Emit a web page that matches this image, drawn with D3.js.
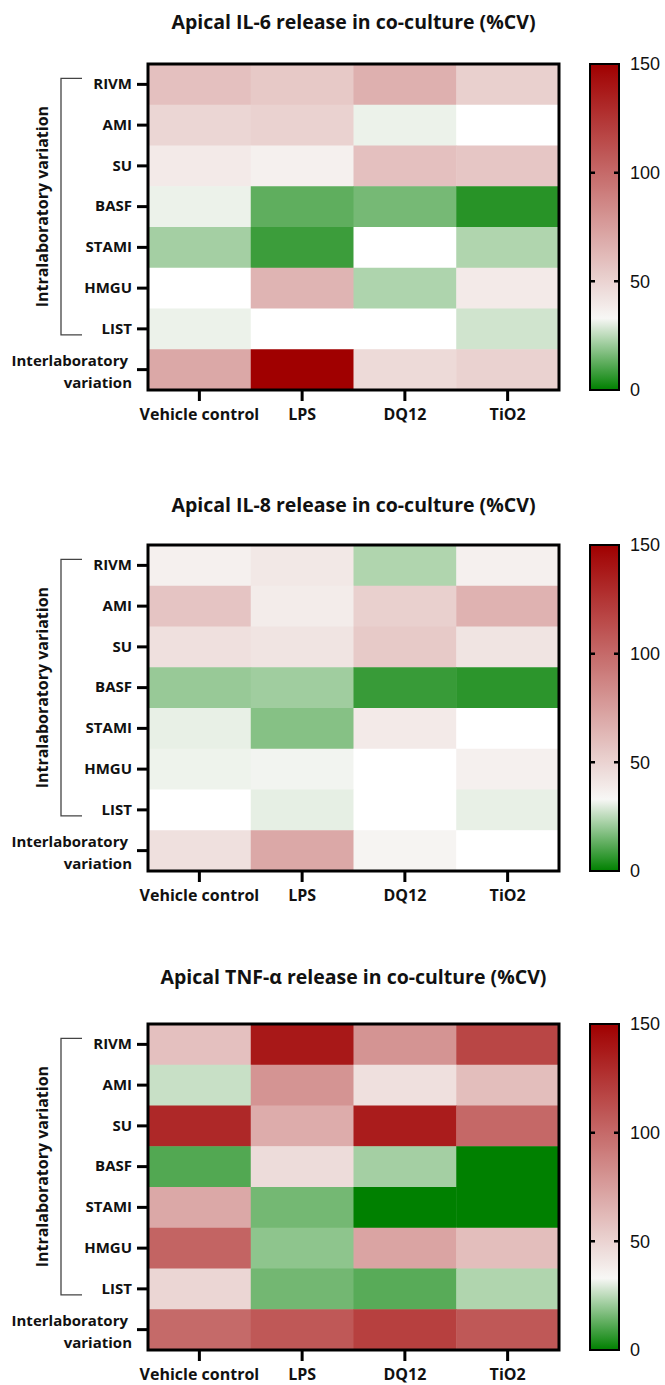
<!DOCTYPE html>
<html>
<head>
<meta charset="utf-8">
<script src="https://cdn.jsdelivr.net/npm/d3@7"></script>
<style>
    body { margin: 0; background: #fff; }
    svg text { font-family: "Open Sans", Lato, sans-serif; fill: #111; }
    .title { font-size: 19.5px; font-weight: 700; }
    .axis text { font-size: 15px; font-weight: 700; }
    .side-label { font-size: 16px; font-weight: 700; }
    .legend-label { font-family: "Liberation Sans", Arial, sans-serif !important; font-size: 18px; }
</style>
</head>
<body>
<div id="chart"></div>
<script>
const labs = ["RIVM", "AMI", "SU", "BASF", "STAMI", "HMGU", "LIST", "Interlaboratory variation"];
const treatments = ["Vehicle control", "LPS", "DQ12", "TiO2"];
const legendTicks = [0, 50, 100, 150];

// %CV per lab (rows) and treatment (columns); null = no value (white cell)
const il6Values = [
    [59, 55, 66.6, 51.5],
    [48.6, 50.5, 31.5, null],
    [39, 36.3, 59, 56],
    [31.5, 12.7, 15.8, 5.3],
    [21.9, 8, null, 23.5],
    [null, 64.7, 23.3, 39],
    [31.5, null, null, 27.8],
    [70.4, 150, 46.7, 50.5]
];
const il8Values = [
    [36.3, 40, 23.5, 36.3],
    [57, 38.2, 51.5, 65.7],
    [43.9, 42, 54.3, 42],
    [20.3, 21.4, 7.5, 5.9],
    [31, 17.9, 39, null],
    [31.8, 32.3, null, 36.3],
    [null, 30.7, null, 31],
    [43.9, 70.4, 34.4, null]
];
const tnfValues = [
    [59, 138.6, 80, 117],
    [26.7, 80, 43.9, 60],
    [131, 68.5, 136.7, 100.7],
    [11, 45.8, 21.9, 0],
    [70.4, 15.5, 0, 0],
    [102.6, 19, 72.3, 60],
    [48.6, 15.3, 11.8, 23.5],
    [99.8, 108.3, 119.7, 108.3]
];

const color = d3.scaleLinear()
    .domain([0, 33, 150])
    .range(["#008000", "#f7f7f5", "#a00000"])
    .clamp(true);

const svg = d3.select("#chart")
    .append("svg")
    .attr("width", 665)
    .attr("height", 1385);

class Heatmap {
    constructor(svg, id, title, values, top, titleY) {
        this.svg = svg;
        this.id = id;
        this.title = title;
        this.values = values;
        this.top = top;
        this.titleY = titleY;
        this.initVis();
    }

    initVis() {
        let vis = this;

        vis.left = 148;
        vis.width = 411;
        vis.height = 326;

        vis.panel = vis.svg.append("g")
            .attr("transform", `translate(0,${vis.top})`);
        vis.plot = vis.panel.append("g")
            .attr("transform", `translate(${vis.left},0)`);

        vis.x = d3.scaleBand().domain(treatments).range([0, vis.width]);
        vis.y = d3.scaleBand().domain(labs).range([0, vis.height]);

        vis.svg.append("text")
            .attr("class", "title")
            .attr("x", vis.left + vis.width / 2)
            .attr("y", vis.titleY)
            .attr("text-anchor", "middle")
            .text(vis.title);

        vis.drawCells();
        vis.drawAxes();
        vis.drawBracket();
        vis.drawLegend();
    }

    drawCells() {
        let vis = this;

        const cells = [];
        vis.values.forEach((row, i) => row.forEach((v, j) => {
            cells.push({ lab: labs[i], treatment: treatments[j], value: v });
        }));

        vis.plot.selectAll(".cell")
            .data(cells)
            .enter()
            .append("rect")
            .attr("class", "cell")
            .attr("x", d => vis.x(d.treatment))
            .attr("y", d => vis.y(d.lab))
            .attr("width", vis.x.bandwidth() + 0.5)
            .attr("height", vis.y.bandwidth() + 0.5)
            .attr("fill", d => d.value === null ? "#ffffff" : color(d.value));

        vis.plot.append("rect")
            .attr("width", vis.width)
            .attr("height", vis.height)
            .attr("fill", "none")
            .attr("stroke", "#000")
            .attr("stroke-width", 3);
    }

    drawAxes() {
        let vis = this;
        const last = labs[labs.length - 1];

        const yAxis = d3.axisLeft(vis.y)
            .tickSize(11)
            .tickPadding(5)
            .tickFormat(d => d === last ? "" : d);
        const yGroup = vis.plot.append("g")
            .attr("class", "axis")
            .call(yAxis);
        yGroup.select(".domain").remove();
        yGroup.selectAll(".tick line").attr("stroke", "#000").attr("stroke-width", 3);

        // two-line label for the last row
        const lastText = yGroup.append("text")
            .attr("transform", `translate(-16,${vis.y(last) + vis.y.bandwidth() / 2})`)
            .attr("text-anchor", "end");
        lastText.append("tspan").attr("x", -4).attr("y", -4).text("Interlaboratory");
        lastText.append("tspan").attr("x", 0).attr("y", 18).text("variation");

        const xAxis = d3.axisBottom(vis.x)
            .tickSize(11)
            .tickPadding(8);
        const xGroup = vis.plot.append("g")
            .attr("class", "axis")
            .attr("transform", `translate(0,${vis.height})`)
            .call(xAxis);
        xGroup.select(".domain").remove();
        xGroup.selectAll(".tick line").attr("stroke", "#000").attr("stroke-width", 3);
        xGroup.selectAll("text").style("font-size", "16px");
    }

    drawBracket() {
        let vis = this;

        const y0 = vis.y(labs[0]) + vis.y.bandwidth() / 2 - 6;
        const y1 = vis.y(labs[6]) + vis.y.bandwidth() / 2 + 6;

        vis.panel.append("path")
            .attr("d", `M82,${y0}H61V${y1}H82`)
            .attr("fill", "none")
            .attr("stroke", "#444")
            .attr("stroke-width", 1.3);

        vis.panel.append("text")
            .attr("class", "side-label")
            .attr("transform", "rotate(-90)")
            .attr("x", -(y0 + y1) / 2)
            .attr("y", 48)
            .attr("text-anchor", "middle")
            .text("Intralaboratory variation");
    }

    drawLegend() {
        let vis = this;

        const barW = 29;
        const legend = vis.panel.append("g")
            .attr("transform", "translate(590,0)");
        const ly = d3.scaleLinear().domain([0, 150]).range([vis.height, 0]);

        const grad = vis.svg.append("defs")
            .append("linearGradient")
            .attr("id", `grad-${vis.id}`)
            .attr("x1", 0).attr("y1", 1)
            .attr("x2", 0).attr("y2", 0);
        grad.selectAll("stop")
            .data(d3.range(0, 151, 3))
            .enter()
            .append("stop")
            .attr("offset", d => d / 150)
            .attr("stop-color", d => color(d));

        legend.append("rect")
            .attr("width", barW)
            .attr("height", vis.height)
            .attr("fill", `url(#grad-${vis.id})`)
            .attr("stroke", "#000")
            .attr("stroke-width", 2);

        const inner = legendTicks.filter(t => t > 0 && t < 150);
        legend.selectAll(".tl")
            .data(inner)
            .enter()
            .append("path")
            .attr("d", d => `M0,${ly(d)}h5M${barW - 5},${ly(d)}h5`)
            .attr("stroke", "#000")
            .attr("stroke-width", 2.5);

        legend.selectAll(".legend-label")
            .data(legendTicks)
            .enter()
            .append("text")
            .attr("class", "legend-label")
            .attr("x", barW + 11)
            .attr("y", d => ly(d))
            .attr("dy", "0.35em")
            .text(d => d);
    }
}

new Heatmap(svg, "il6", "Apical IL-6 release in co-culture (%CV)", il6Values, 64, 29);
new Heatmap(svg, "il8", "Apical IL-8 release in co-culture (%CV)", il8Values, 545, 512);
new Heatmap(svg, "tnf", "Apical TNF-\u03b1 release in co-culture (%CV)", tnfValues, 1024, 984);
</script>
</body>
</html>
